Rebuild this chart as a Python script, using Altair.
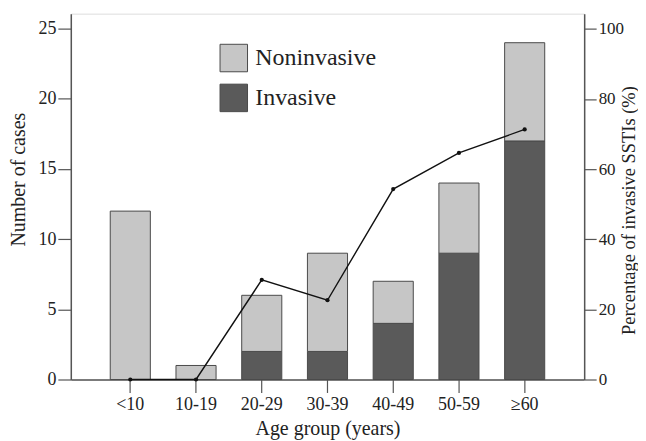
import altair as alt
import pandas as pd

categories = ["<10", "10-19", "20-29", "30-39", "40-49", "50-59", "≥60"]
invasive = [0, 0, 2, 2, 4, 9, 17]
noninvasive = [12, 1, 4, 7, 3, 5, 7]
pct_invasive = [0, 0, 28.4, 22.6, 54.3, 64.6, 71.3]
left_ticks = [0, 5, 10, 15, 20, 25]
right_ticks = [0, 20, 40, 60, 80, 100]
types = ["Noninvasive", "Invasive"]
type_colors = ["#c6c6c6", "#5a5a5a"]

rows = []
for c, inv, non in zip(categories, invasive, noninvasive):
    rows.append({"age": c, "type": "Invasive", "n": inv, "ord": 0})
    rows.append({"age": c, "type": "Noninvasive", "n": non, "ord": 1})
bars_df = pd.DataFrame(rows)
line_df = pd.DataFrame({"age": categories, "pct": pct_invasive})

FONT = "Times New Roman, Liberation Serif, serif"
AX = "#555555"
TXT = "#222222"

xscale = alt.Scale(domain=categories, paddingInner=0.39, paddingOuter=0.6)
x_enc = alt.X(
    "age:N", sort=categories, scale=xscale,
    axis=alt.Axis(
        title="Age group (years)", labelAngle=0, labelFont=FONT, labelFontSize=18,
        labelColor=TXT, tickSize=13, labelPadding=3, titleFont=FONT, titleFontSize=20,
        titleFontWeight="normal", titleColor=TXT, titleBaseline="alphabetic",
        titleY=55, titleX=257.5, domainColor=AX, tickColor=AX, domainWidth=1.5,
        tickWidth=1.2,
    ),
)

bars = alt.Chart(bars_df).mark_bar(stroke="#4a4a4a", strokeWidth=1).encode(
    x=x_enc,
    y=alt.Y(
        "n:Q", stack="zero", scale=alt.Scale(domain=[0, 26.07], nice=False, zero=True),
        axis=alt.Axis(
            values=left_ticks, title="Number of cases", orient="left", grid=False,
            labelFont=FONT, labelFontSize=18, labelColor=TXT, tickSize=13, labelPadding=2,
            titleFont=FONT, titleFontSize=20, titleFontWeight="normal", titleColor=TXT,
            titleAngle=270, titleBaseline="alphabetic", titleX=-46, titleY=166,
            domainColor=AX, tickColor=AX, domainWidth=1.5, tickWidth=1.2,
        ),
    ),
    color=alt.Color(
        "type:N", scale=alt.Scale(domain=types, range=type_colors),
        legend=alt.Legend(
            title=None, orient="none", legendX=149, legendY=30, symbolType="square",
            symbolSize=760, symbolStrokeColor="#4a4a4a", symbolStrokeWidth=1,
            symbolOpacity=1, labelFont=FONT, labelFontSize=24, labelColor=TXT,
            labelOffset=7, rowPadding=7,
        ),
    ),
    order=alt.Order("ord:Q"),
)

line = alt.Chart(line_df).mark_line(
    color="#111111", strokeWidth=1.4,
    point=alt.OverlayMarkDef(filled=True, size=18, color="#111111"),
).encode(
    x=alt.X("age:N", sort=categories, scale=xscale),
    y=alt.Y(
        "pct:Q", scale=alt.Scale(domain=[0, 104.3], nice=False),
        axis=alt.Axis(
            values=right_ticks, title="Percentage of invasive SSTIs (%)", orient="right",
            grid=False, labelFont=FONT, labelFontSize=17, labelColor=TXT, tickSize=12,
            labelPadding=2, titleFont=FONT, titleFontSize=18.5, titleFontWeight="normal",
            titleColor=TXT, titleAngle=270, titleBaseline="alphabetic", titleX=50,
            titleY=197, domainColor=AX, tickColor=AX, domainWidth=1.5, tickWidth=1.2,
        ),
    ),
)

chart = alt.layer(bars, line).resolve_scale(y="independent").properties(
    width=515, height=367,
    autosize=alt.AutoSizeParams(type="none"),
    padding={"left": 63, "top": 5, "right": 54, "bottom": 60},
).configure_view(stroke=None).configure(background="white")

chart.save("out.html", embed_options={"renderer": "svg", "actions": False})
